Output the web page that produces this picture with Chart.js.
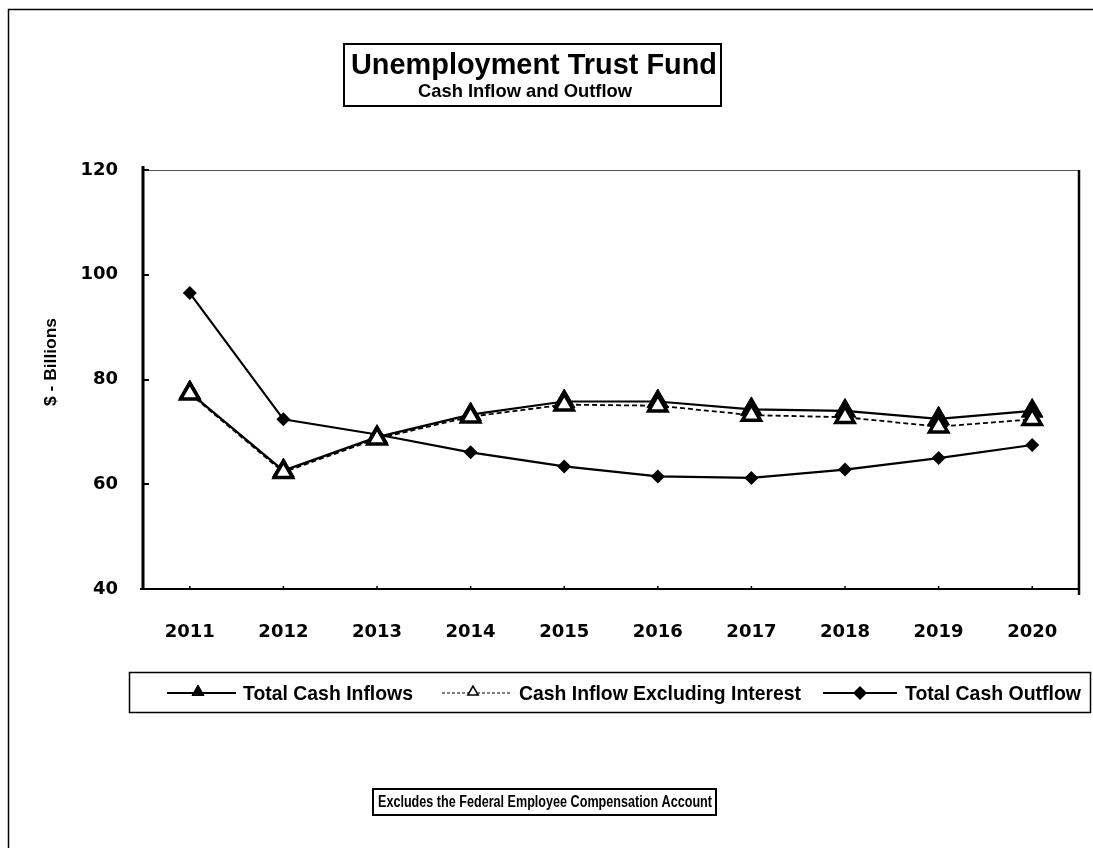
<!DOCTYPE html>
<html>
<head>
<meta charset="utf-8">
<title>Unemployment Trust Fund</title>
<script src="https://cdn.jsdelivr.net/npm/chart.js@4.4.1/dist/chart.umd.min.js"></script>
<style>
  html, body { margin: 0; padding: 0; background: #fff; }
  #wrap { width: 1093px; height: 848px; }
</style>
</head>
<body>
<div id="wrap"><canvas id="trustFundChart" width="1093" height="848"></canvas></div>
<script>
// Cash flow series, $ billions
const years = ['2011', '2012', '2013', '2014', '2015', '2016', '2017', '2018', '2019', '2020'];
const totalCashInflows = [77.5, 62.6, 69.0, 73.3, 75.8, 75.8, 74.3, 74.0, 72.5, 74.0];
const inflowExInterest = [77.3, 62.3, 68.7, 72.9, 75.2, 75.0, 73.2, 72.8, 71.0, 72.4];
const totalCashOutflow = [96.5, 72.4, 69.5, 66.1, 63.4, 61.5, 61.2, 62.8, 65.0, 67.5];

const FONT_TEXT = '"Liberation Sans", Arial, sans-serif';

// text squeezed horizontally into a given width (condensed look)
function fitText(ctx, text, x, y, width, align) {
    const w = ctx.measureText(text).width;
    const s = Math.min(1.15, width / w);
    ctx.save();
    ctx.textAlign = 'left';
    let x0 = x;
    if (align === 'center') x0 = x - (w * s) / 2;
    ctx.translate(x0, y);
    ctx.scale(s, 1);
    ctx.fillText(text, 0, 0);
    ctx.restore();
}

function drawTriangle(ctx, x, y, r, filled) {
    ctx.beginPath();
    for (let i = 0; i < 3; i++) {
        const a = i * 2 * Math.PI / 3;
        const px = x + Math.sin(a) * r, py = y - Math.cos(a) * r;
        if (i === 0) ctx.moveTo(px, py); else ctx.lineTo(px, py);
    }
    ctx.closePath();
    ctx.fillStyle = filled ? '#000' : '#fff';
    ctx.fill();
    ctx.lineWidth = filled ? 1 : 1.5;
    ctx.strokeStyle = '#000';
    ctx.stroke();
}

function drawDiamond(ctx, x, y, r) {
    ctx.beginPath();
    ctx.moveTo(x, y - r);
    ctx.lineTo(x + r, y);
    ctx.lineTo(x, y + r);
    ctx.lineTo(x - r, y);
    ctx.closePath();
    ctx.fillStyle = '#000';
    ctx.fill();
}

// frame, axes, tick marks and axis title
const framePlugin = {
    id: 'frame',
    beforeDatasetsDraw(chart) {
        const { ctx, chartArea: a, scales } = chart;
        ctx.save();
        ctx.strokeStyle = '#000';
        // page border (left and top only)
        ctx.lineWidth = 1.5;
        ctx.beginPath();
        ctx.moveTo(8.5, 848);
        ctx.lineTo(8.5, 9.5);
        ctx.lineTo(1093, 9.5);
        ctx.stroke();
        // plot top edge
        ctx.strokeStyle = '#555';
        ctx.lineWidth = 1;
        ctx.beginPath();
        ctx.moveTo(a.left, a.top + 0.5);
        ctx.lineTo(a.right, a.top + 0.5);
        ctx.stroke();
        // plot right edge
        ctx.strokeStyle = '#000';
        ctx.lineWidth = 2.5;
        ctx.beginPath();
        ctx.moveTo(a.right, a.top);
        ctx.lineTo(a.right, a.bottom + 6);
        ctx.stroke();
        // x axis
        ctx.lineWidth = 2;
        ctx.beginPath();
        ctx.moveTo(a.left - 3, a.bottom);
        ctx.lineTo(a.right, a.bottom);
        ctx.stroke();
        // y axis
        ctx.lineWidth = 3;
        ctx.beginPath();
        ctx.moveTo(a.left, a.top - 4);
        ctx.lineTo(a.left, a.bottom + 1);
        ctx.stroke();
        // y tick marks (inside)
        ctx.lineWidth = 2;
        scales.y.ticks.forEach(t => {
            const py = Math.round(scales.y.getPixelForValue(t.value));
            ctx.beginPath();
            ctx.moveTo(a.left, py);
            ctx.lineTo(a.left + 6, py);
            ctx.stroke();
        });
        // x tick marks
        ctx.lineWidth = 1.5;
        years.forEach((_, i) => {
            const px = scales.x.getPixelForValue(i);
            ctx.beginPath();
            ctx.moveTo(px, a.bottom);
            ctx.lineTo(px, a.bottom - 3);
            ctx.stroke();
        });
        // y axis title
        ctx.translate(51, 362);
        ctx.rotate(-Math.PI / 2);
        ctx.fillStyle = '#000';
        ctx.font = 'bold 17px ' + FONT_TEXT;
        ctx.textBaseline = 'middle';
        fitText(ctx, '$ - Billions', 0, 0, 88, 'center');
        ctx.restore();
    },
    afterDraw(chart) {
        const ctx = chart.ctx;
        ctx.save();
        ctx.fillStyle = '#000';
        ctx.strokeStyle = '#000';
        ctx.textBaseline = 'alphabetic';

        // title box
        ctx.lineWidth = 2;
        ctx.strokeRect(344, 44, 377, 62);
        ctx.font = 'bold 30px ' + FONT_TEXT;
        fitText(ctx, 'Unemployment Trust Fund', 534, 74, 366, 'center');
        ctx.font = 'bold 19px ' + FONT_TEXT;
        fitText(ctx, 'Cash Inflow and Outflow', 525, 97, 214, 'center');

        // legend box
        ctx.lineWidth = 1.5;
        ctx.strokeRect(129.5, 672.5, 961, 40);
        const ly = 693;
        ctx.font = 'bold 21px ' + FONT_TEXT;
        ctx.textBaseline = 'middle';

        ctx.lineWidth = 2;
        ctx.setLineDash([]);
        ctx.beginPath(); ctx.moveTo(167, ly); ctx.lineTo(236, ly); ctx.stroke();
        drawTriangle(ctx, 198, ly - 1, 7, true);
        ctx.fillStyle = '#000';
        fitText(ctx, 'Total Cash Inflows', 243, ly + 1, 170, 'left');

        ctx.lineWidth = 1.2;
        ctx.setLineDash([3, 2]);
        ctx.beginPath(); ctx.moveTo(442, ly); ctx.lineTo(512, ly); ctx.stroke();
        ctx.setLineDash([]);
        drawTriangle(ctx, 473, ly - 1, 6, false);
        ctx.fillStyle = '#000';
        fitText(ctx, 'Cash Inflow Excluding Interest', 519, ly + 1, 282, 'left');

        ctx.lineWidth = 2;
        ctx.beginPath(); ctx.moveTo(823, ly); ctx.lineTo(897, ly); ctx.stroke();
        drawDiamond(ctx, 860, ly, 7);
        ctx.fillStyle = '#000';
        fitText(ctx, 'Total Cash Outflow', 905, ly + 1, 176, 'left');

        // footnote box
        ctx.lineWidth = 2;
        ctx.strokeRect(373, 789, 343, 26);
        ctx.font = 'bold 16px ' + FONT_TEXT;
        fitText(ctx, 'Excludes the Federal Employee Compensation Account', 545, 803, 334, 'center');
        ctx.restore();
    }
};

new Chart(document.getElementById('trustFundChart'), {
    type: 'line',
    data: {
        labels: years,
        datasets: [
            {
                label: 'Cash Inflow Excluding Interest',
                data: inflowExInterest,
                order: 0,
                borderColor: '#000',
                borderWidth: 1.8,
                borderDash: [5, 3],
                pointStyle: 'triangle',
                pointRadius: 10.5,
                pointBackgroundColor: '#fff',
                pointBorderColor: '#000',
                pointBorderWidth: 3.5,
                tension: 0
            },
            {
                label: 'Total Cash Inflows',
                data: totalCashInflows,
                order: 1,
                borderColor: '#000',
                borderWidth: 2.2,
                pointStyle: 'triangle',
                pointRadius: 12.5,
                pointBackgroundColor: '#000',
                pointBorderColor: '#000',
                pointBorderWidth: 1,
                tension: 0
            },
            {
                label: 'Total Cash Outflow',
                data: totalCashOutflow,
                order: 2,
                borderColor: '#000',
                borderWidth: 2.2,
                pointStyle: 'rectRot',
                pointRadius: 7,
                pointBackgroundColor: '#000',
                pointBorderColor: '#000',
                pointBorderWidth: 0,
                tension: 0
            }
        ]
    },
    options: {
        responsive: false,
        animation: false,
        devicePixelRatio: 1,
        layout: { padding: { top: 170, left: 0, right: 10, bottom: 199 } },
        plugins: {
            legend: { display: false },
            title: { display: false },
            tooltip: { enabled: false }
        },
        scales: {
            x: {
                offset: true,
                grid: { display: false, drawTicks: false },
                border: { display: false },
                ticks: { color: '#000', font: { family: 'DejaVu Sans', size: 18, weight: 'bold' }, padding: 33 },
                afterFit(scale) { scale.height = 60; }
            },
            y: {
                min: 40,
                max: 120,
                grid: { display: false, drawTicks: false },
                border: { display: false },
                ticks: { stepSize: 20, color: '#000', font: { family: 'DejaVu Sans', size: 18, weight: 'bold' }, padding: 25 },
                afterFit(scale) { scale.width = 143; }
            }
        }
    },
    plugins: [framePlugin]
});
</script>
</body>
</html>
